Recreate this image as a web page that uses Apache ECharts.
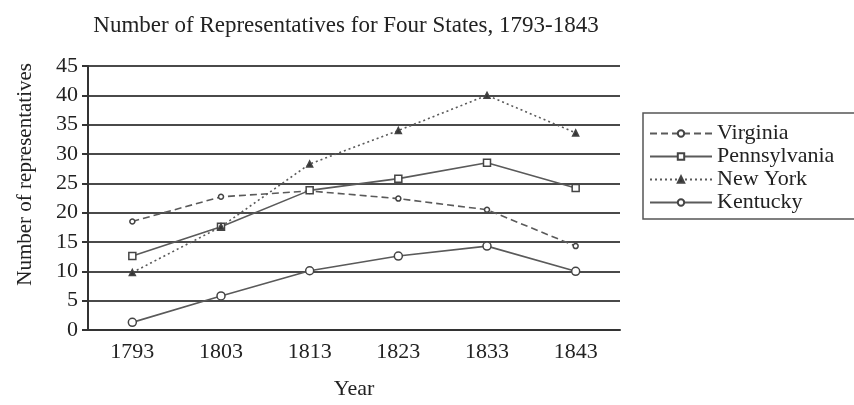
<!DOCTYPE html>
<html><head><meta charset="utf-8">
<script src="https://cdn.jsdelivr.net/npm/echarts@6/dist/echarts.min.js"></script>
<style>html,body{margin:0;padding:0;background:#fff}#c{width:854px;height:405px}</style>
</head><body><div id="c"></div>
<script>
const years = ['1793','1803','1813','1823','1833','1843'];
const virginia = [18.5, 22.7, 23.7, 22.4, 20.5, 14.3];
const pennsylvania = [12.6, 17.6, 23.8, 25.8, 28.5, 24.2];
const newYork = [9.8, 17.6, 28.3, 34.0, 40.0, 33.6];
const kentucky = [1.3, 5.8, 10.1, 12.6, 14.3, 10.0];
const yTicks = [0,5,10,15,20,25,30,35,40,45];

const FONT = '"Liberation Serif", "DejaVu Serif", serif';
const chart = echarts.init(document.getElementById('c'), null, {renderer:'canvas'});
function ser(name, data, symbol, size, lineType, filled){
  return {name, type:'line', data, symbol, symbolSize:size, showAllSymbol:true,
    lineStyle:{color:'#5a5a5a', width:1.6, type:lineType},
    itemStyle:{color: filled ? '#333' : '#fff', borderColor:'#444', borderWidth:1.5},
    emphasis:{disabled:true}, animation:false};
}
chart.setOption({
  animation:false,
  backgroundColor:'#fff',
  title:{text:'Number of Representatives for Four States, 1793-1843', left:341, textAlign:'center', top:9,
    textStyle:{fontFamily:FONT, fontSize:23, fontWeight:'normal', color:'#222'}},
  graphic:[{type:'text', left:15, top:63, rotation:Math.PI/2,
    style:{text:'Number of representatives', fontFamily:FONT, fontSize:21, fill:'#222',
      x:0, y:0}}],
  grid:{left:88, right:234, top:66, bottom:73, containLabel:false},
  xAxis:{type:'category', data:years, boundaryGap:true,
    name:'Year', nameLocation:'middle', nameGap:48,
    nameTextStyle:{fontFamily:FONT, fontSize:22, color:'#222'},
    axisLine:{lineStyle:{color:'#333', width:2}},
    axisTick:{alignWithLabel:true, length:6, inside:false, lineStyle:{color:'#333', width:2}},
    axisLabel:{fontFamily:FONT, fontSize:22, color:'#222', margin:11},
    splitLine:{show:false}},
  yAxis:{type:'value', min:0, max:45, interval:5,
    axisLine:{show:true, lineStyle:{color:'#333', width:2}},
    axisTick:{show:true, length:6, lineStyle:{color:'#333', width:2}},
    axisLabel:{fontFamily:FONT, fontSize:22, color:'#222', margin:10,
      formatter:v => yTicks.includes(v) ? String(v) : ''},
    splitLine:{show:true, lineStyle:{color:'#4a4a4a', width:2}}},
  legend:{orient:'vertical', left:643, top:113,
    data:['Virginia','Pennsylvania','New York','Kentucky'],
    itemWidth:62, itemHeight:8, itemGap:0,
    borderColor:'#555', borderWidth:1.5, padding:[9,300,5,6],
    textStyle:{fontFamily:FONT, fontSize:22, lineHeight:23, color:'#222'}},
  series:[
    ser('Virginia', virginia, 'circle', 5, [7,4], false),
    ser('Pennsylvania', pennsylvania, 'rect', 7, 'solid', false),
    ser('New York', newYork, 'triangle', 6, [2,3], true),
    ser('Kentucky', kentucky, 'circle', 8, 'solid', false)
  ]
});
</script></body></html>
